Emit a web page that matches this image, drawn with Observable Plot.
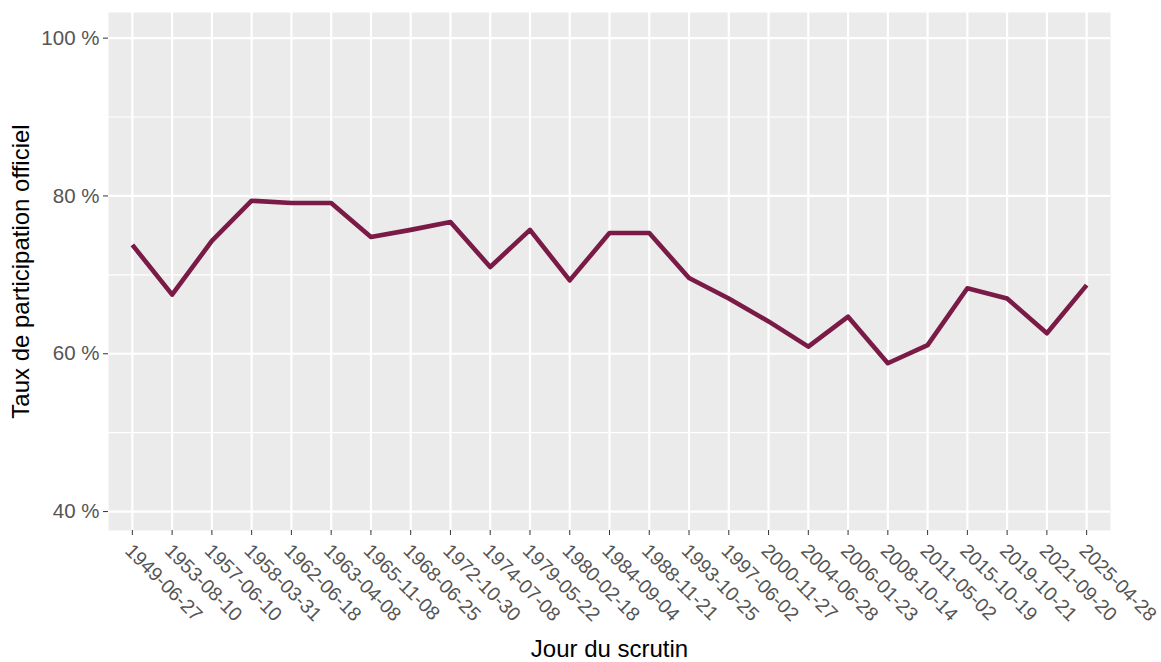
<!DOCTYPE html>
<html>
<head>
<meta charset="utf-8">
<script src="https://cdn.jsdelivr.net/npm/d3@7"></script>
<script src="https://cdn.jsdelivr.net/npm/@observablehq/plot@0.6"></script>
<style>
  html, body { margin: 0; padding: 0; background: #ffffff; }
  #chart svg { display: block; }
</style>
</head>
<body>
<div id="chart"></div>
<script>
const dates = [
  "1949-06-27", "1953-08-10", "1957-06-10", "1958-03-31", "1962-06-18",
  "1963-04-08", "1965-11-08", "1968-06-25", "1972-10-30", "1974-07-08",
  "1979-05-22", "1980-02-18", "1984-09-04", "1988-11-21", "1993-10-25",
  "1997-06-02", "2000-11-27", "2004-06-28", "2006-01-23", "2008-10-14",
  "2011-05-02", "2015-10-19", "2019-10-21", "2021-09-20", "2025-04-28"
];
const turnout = [
  73.8, 67.5, 74.3, 79.4, 79.1,
  79.1, 74.8, 75.7, 76.7, 71.0,
  75.7, 69.3, 75.3, 75.3, 69.6,
  67.0, 64.1, 60.9, 64.7, 58.8,
  61.1, 68.3, 67.0, 62.6, 68.7
];
const yMajorTicks = [40, 60, 80, 100];
const yMinorTicks = [50, 70, 90];
const xTitle = "Jour du scrutin";
const yTitle = "Taux de participation officiel";

const data = dates.map((d, i) => ({date: d, value: turnout[i]}));

const font = "'Liberation Sans', Arial, sans-serif";
const tickColor = "#555555";

const chart = Plot.plot({
  width: 1161,
  height: 662,
  marginLeft: 108,
  marginRight: 51,
  marginTop: 12,
  marginBottom: 132,
  style: {fontFamily: font, background: "#ffffff", overflow: "visible"},
  x: {type: "point", domain: dates, padding: 0.6, round: false},
  y: {domain: [37.6, 103.25]},
  marks: [
    Plot.frame({fill: "#EBEBEB", stroke: null}),
    Plot.gridY(yMinorTicks, {stroke: "#ffffff", strokeOpacity: 1, strokeWidth: 1.1}),
    Plot.gridY(yMajorTicks, {stroke: "#ffffff", strokeOpacity: 1, strokeWidth: 2.2}),
    Plot.gridX(dates, {stroke: "#ffffff", strokeOpacity: 1, strokeWidth: 2.2}),
    Plot.line(data, {x: "date", y: "value", stroke: "#7A1A46", strokeWidth: 4.6, strokeLinejoin: "round", strokeLinecap: "butt"}),
    Plot.axisY(yMajorTicks, {
      tickFormat: d => d + " %",
      tickSize: 5,
      tickPadding: 4,
      fontSize: 20.5,
      color: tickColor,
      stroke: "#333333",
      label: null
    }),
    // tick marks only
    Plot.axisX({
      tickSize: 5,
      tickFormat: () => "",
      stroke: "#333333",
      label: null
    }),
    // rotated labels only
    Plot.axisX({
      tickRotate: 45,
      tickSize: 0,
      tickPadding: 17,
      dx: -4,
      fontSize: 19.5,
      color: tickColor,
      label: null
    }),
    Plot.text([xTitle], {
      text: d => d,
      frameAnchor: "bottom",
      dy: 119,
      fontSize: 24,
      fill: "#000000",
      textAnchor: "middle",
      lineAnchor: "middle"
    }),
    Plot.text([yTitle], {
      text: d => d,
      frameAnchor: "left",
      dx: -87,
      rotate: -90,
      fontSize: 24,
      fill: "#000000",
      textAnchor: "middle",
      lineAnchor: "middle"
    })
  ]
});

document.getElementById("chart").appendChild(chart);
</script>
</body>
</html>
